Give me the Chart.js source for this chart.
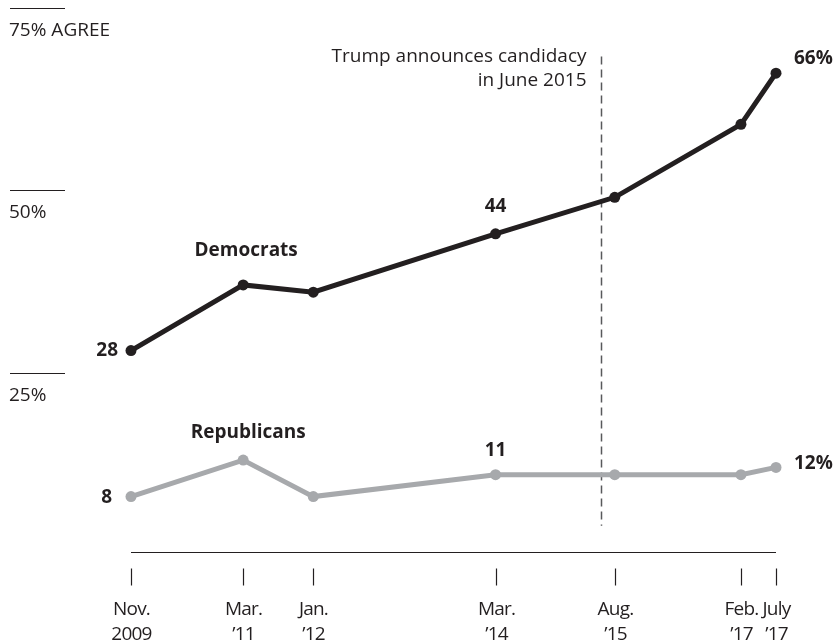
<!DOCTYPE html>
<html>
<head>
<meta charset="utf-8">
<script src="https://cdn.jsdelivr.net/npm/chart.js@4.4.0/dist/chart.umd.min.js"></script>
<style>
  html, body { margin: 0; padding: 0; background: #fff; }
</style>
</head>
<body>
<canvas id="agreeChart" width="836" height="643"></canvas>
<script>
// survey dates, counted in months from Nov. 2009
var surveyMonths = [0, 16, 26, 52, 69, 87, 92];
var tickLabels = [['Nov.', '2009'], ['Mar.', '\u201911'], ['Jan.', '\u201912'], ['Mar.', '\u201914'],
                  ['Aug.', '\u201915'], ['Feb.', '\u201917'], ['July', '\u201917']];
var democrats = [28, 37, 36, 44, 49, 59, 66];
var republicans = [8, 13, 8, 11, 11, 11, 12];
var yTicks = [25, 50, 75];
var yTickLabels = ['25%', '50%', '75% AGREE'];
var candidacyMonth = 67; // June 2015

var INK = '#231f20';
var GRAY = '#a7a9ac';
var FONT = '"Open Sans", sans-serif';

function toPoints(values) {
    return values.map(function (v, i) { return { x: surveyMonths[i], y: v }; });
}

var decorations = {
    id: 'decorations',
    beforeDatasetsDraw: function (chart) {
        var ctx = chart.ctx, xs = chart.scales.x, ys = chart.scales.y;
        ctx.save();

        // short rules on the left with the value underneath
        ctx.strokeStyle = INK;
        ctx.lineWidth = 1.2;
        ctx.fillStyle = INK;
        ctx.font = '19px ' + FONT;
        ctx.textAlign = 'left';
        ctx.textBaseline = 'alphabetic';
        yTicks.forEach(function (v, i) {
            var py = Math.round(ys.getPixelForValue(v)) + 0.5;
            ctx.beginPath();
            ctx.moveTo(10, py);
            ctx.lineTo(65, py);
            ctx.stroke();
            ctx.fillText(yTickLabels[i], 9, py + 27);
        });

        // time axis: a rule, detached tick marks, two-line labels
        var base = Math.round(ys.getPixelForValue(0) - 3) + 0.5;
        ctx.beginPath();
        ctx.moveTo(xs.getPixelForValue(surveyMonths[0]), base);
        ctx.lineTo(xs.getPixelForValue(surveyMonths[surveyMonths.length - 1]), base);
        ctx.stroke();
        ctx.textAlign = 'center';
        ctx.textBaseline = 'middle';
        ctx.letterSpacing = '-0.8px';
        surveyMonths.forEach(function (m, i) {
            var px = Math.round(xs.getPixelForValue(m)) + 0.5;
            ctx.beginPath();
            ctx.moveTo(px, base + 16);
            ctx.lineTo(px, base + 33);
            ctx.stroke();
            ctx.fillText(tickLabels[i][0], px, base + 57);
            ctx.fillText(tickLabels[i][1], px, base + 82);
        });
        ctx.letterSpacing = '0px';

        // candidacy marker
        var cx = Math.round(xs.getPixelForValue(candidacyMonth)) + 0.5;
        var top = ys.getPixelForValue(68.3);
        ctx.strokeStyle = '#58595b';
        ctx.lineWidth = 1.5;
        ctx.setLineDash([8, 5]);
        ctx.beginPath();
        ctx.moveTo(cx, top);
        ctx.lineTo(cx, ys.getPixelForValue(4));
        ctx.stroke();
        ctx.setLineDash([]);
        ctx.textAlign = 'right';
        ctx.fillText('Trump announces candidacy', cx - 15, top);
        ctx.fillText('in June 2015', cx - 15, top + 24);

        ctx.restore();
    },
    afterDatasetsDraw: function (chart) {
        var ctx = chart.ctx;
        var dem = chart.getDatasetMeta(0).data;
        var rep = chart.getDatasetMeta(1).data;
        var last = surveyMonths.length - 1;
        ctx.save();
        ctx.fillStyle = INK;
        ctx.font = 'bold 19px ' + FONT;
        ctx.textBaseline = 'middle';

        function put(text, pt, dx, dy, align) {
            ctx.textAlign = align;
            ctx.fillText(text, pt.x + dx, pt.y + dy);
        }
        put(democrats[0], dem[0], -13, 0, 'right');
        put('Democrats', dem[1], 3, -34, 'center');
        put(democrats[3], dem[3], 0, -27, 'center');
        put(democrats[last] + '%', dem[last], 18, -15, 'left');

        put(republicans[0], rep[0], -19, 1, 'right');
        put('Republicans', rep[1], 5, -28, 'center');
        put(republicans[3], rep[3], 0, -24, 'center');
        put(republicans[last] + '%', rep[last], 18, -4, 'left');
        ctx.restore();
    }
};

var ctx = document.getElementById('agreeChart').getContext('2d');
var agreeChart = new Chart(ctx, {
    type: 'line',
    data: {
        datasets: [{
            label: 'Democrats',
            data: toPoints(democrats),
            borderColor: INK,
            backgroundColor: INK,
            pointBackgroundColor: INK,
            borderWidth: 5,
            pointRadius: 5.5,
            pointBorderWidth: 0,
            tension: 0,
            clip: false
        }, {
            label: 'Republicans',
            data: toPoints(republicans),
            borderColor: GRAY,
            backgroundColor: GRAY,
            pointBackgroundColor: GRAY,
            borderWidth: 5,
            pointRadius: 5.5,
            pointBorderWidth: 0,
            tension: 0,
            clip: false
        }]
    },
    options: {
        responsive: false,
        animation: false,
        devicePixelRatio: 1,
        layout: { padding: { left: 131, right: 60, top: 7.5, bottom: 88 } },
        scales: {
            x: { type: 'linear', min: 0, max: 92, display: false },
            y: { min: 0, max: 75, display: false }
        },
        plugins: {
            legend: { display: false },
            tooltip: { enabled: false }
        }
    },
    plugins: [decorations]
});
</script>
</body>
</html>
